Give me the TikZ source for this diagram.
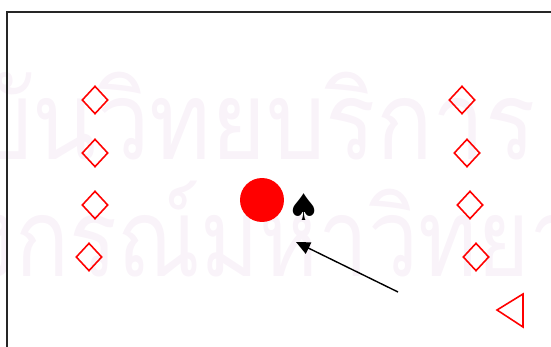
\documentclass[tikz,border=0pt]{standalone}
\usepackage{fontspec}
\usepackage{xcolor}
\usepackage{graphicx}
\usepackage{tikz}
\usetikzlibrary{shapes.geometric,arrows.meta}
\newfontfamily\thaifont[Script=Thai]{Loma}
\newfontfamily\symfont{DejaVu Sans}
\newcommand\wmfont{\thaifont\fontsize{62}{62}\selectfont}
\newlength\wmshift
\definecolor{mark}{HTML}{FF0000}
\definecolor{ghost}{HTML}{F9F3F9}

\begin{document}
\settowidth\wmshift{\wmfont จุฬาลงกรณ์มหา}%
\begin{tikzpicture}[x=0.02cm,y=-0.02cm, suit/.style={diamond,draw=mark,line width=.9pt,minimum width=.52cm,minimum height=.56cm,inner sep=0pt}, pointer/.style={-{Triangle[length=2.8mm,width=2.5mm]},line width=.8pt}, ghosttext/.style={text=ghost,inner sep=0pt}]
\useasboundingbox (0,0) rectangle (551,347);
\clip (0,0) rectangle (551,347);
% watermark
\coordinate (wmmark) at (368,277);
\node[ghosttext,anchor=base east] (wmtop) at (536,160) {\scalebox{.86}[1]{\wmfont สถาบันวิทยบริการ}};
\node[ghosttext,anchor=base west] (wmbot) at ([xshift=-.82\wmshift]wmmark) {\scalebox{.82}[1]{\wmfont จุฬาลงกรณ์มหาวิทยาลัย}};
% frame
\draw[line width=1.1pt,black!85] (7,400) -- (7,12) -- (600,12);
% diamonds
\foreach \x/\y [count=\i] in {95/100,95/153,95/205,89/257} \node[suit] (left\i) at (\x,\y) {};
\foreach \x/\y [count=\i] in {462/100,467/153,470/205,476/257} \node[suit] (right\i) at (\x,\y) {};
\node[circle,fill=mark,minimum size=.88cm,inner sep=0pt] (ball) at (262,200) {};
\node[font=\symfont\fontsize{21}{21}\selectfont,inner sep=0pt] (spade) at (304,207) {♠};
\draw[draw=mark,line width=.9pt] (497,310) -- (523,294) -- (523,327) -- cycle;
\coordinate (tail) at (398,292);
\coordinate (tip) at (296,242);
\draw[pointer] (tail) -- (tip);
\end{tikzpicture}
\end{document}
